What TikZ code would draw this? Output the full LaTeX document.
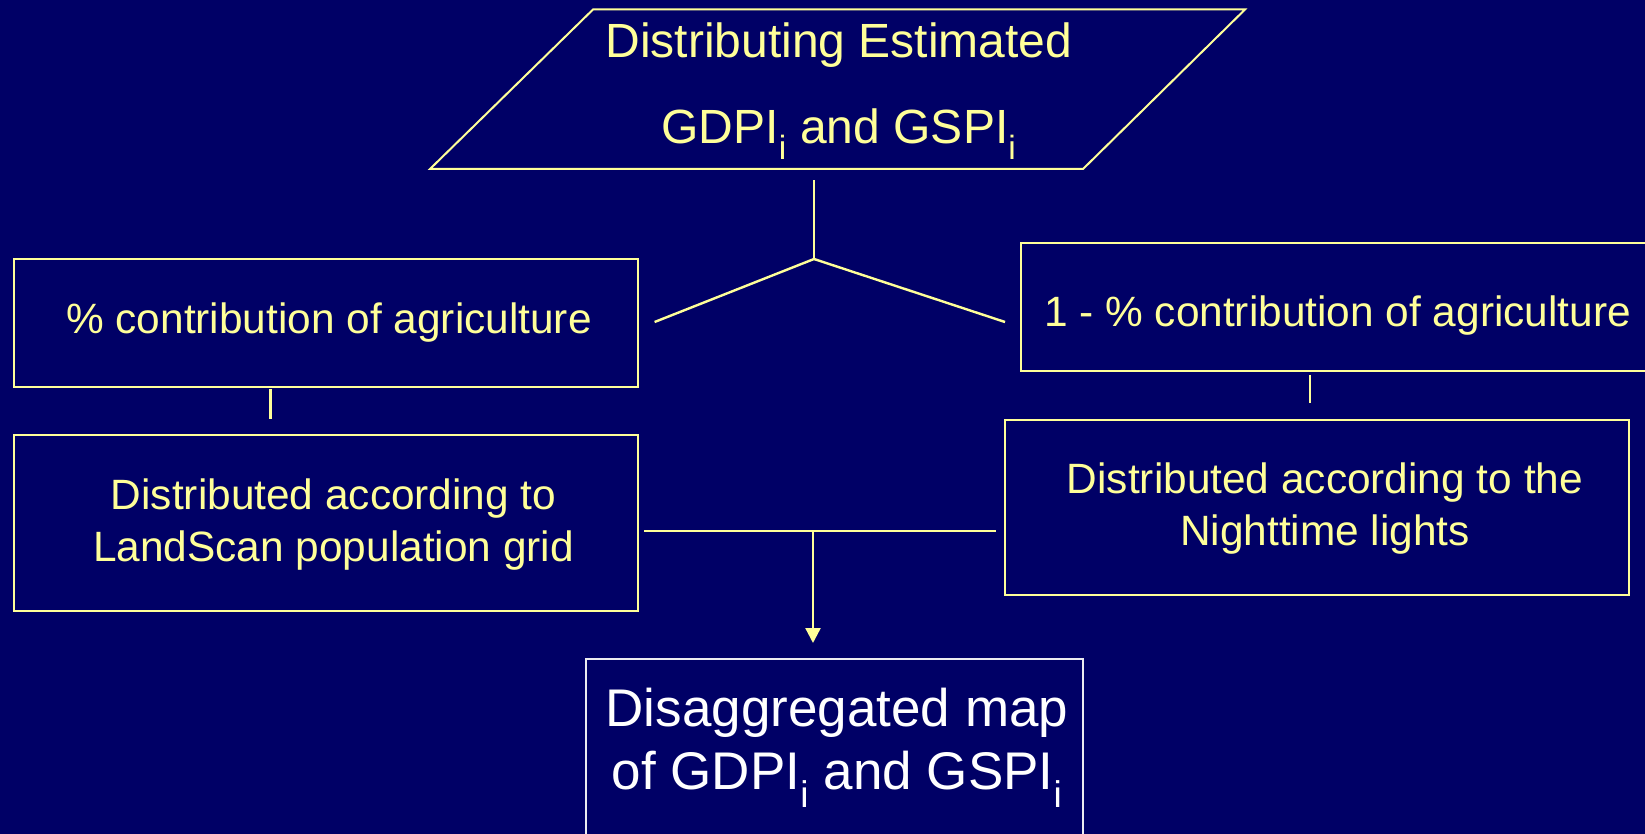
\documentclass[tikz,border=0pt]{standalone}
\usepackage{fontspec}
\setmainfont{Liberation Sans}
\usetikzlibrary{arrows.meta,calc}
\definecolor{navy}{RGB}{0,0,102}
\definecolor{pale}{RGB}{255,255,153}
\definecolor{boxwhite}{RGB}{235,235,240}
\newcommand\sbi{\textsubscript{i}}
\tikzset{
  ybox/.style={draw=pale, line width=2pt, inner sep=0pt},
  wbox/.style={draw=boxwhite, line width=2pt, inner sep=0pt},
  ytext/.style={text=pale, align=center, inner sep=0pt, font=\fontsize{42.4}{52.5}\selectfont},
  conn/.style={draw=pale, line width=2.4pt},
}
\begin{document}
\begin{tikzpicture}[x=1pt,y=-1pt]
\useasboundingbox (0,0) rectangle (1645,834);
\fill[navy] (0,0) rectangle (1645,834);
\clip (0,0) rectangle (1645,834);
% source parallelogram
\draw[pale, line width=2pt] (593,9.5) -- (1245,9.5) -- (1083,169) -- (430,169) -- cycle;
\node[text=pale, align=center, inner sep=0pt, font=\fontsize{48}{86}\selectfont] (src) at (839,91) {Distributing Estimated\\GDPI\sbi{} and GSPI\sbi};
% boxes
\node[ybox, minimum width=624.4pt, minimum height=128pt] (agri) at (325.8,323) {};
\node[ytext] (agrit) at (329,322.5) {\% contribution of agriculture};
\node[ybox, minimum width=640pt, minimum height=128pt] (nagri) at (1341,307) {};
\node[ytext] (nagrit) at (1337.5,316) {1 - \% contribution of agriculture};
\node[ybox, minimum width=624.4pt, minimum height=175.5pt] (land) at (325.8,522.75) {};
\node[ytext] (landt) at (333.6,524.5) {Distributed according to\\LandScan population grid};
\node[ybox, minimum width=624pt, minimum height=175.4pt] (night) at (1317,507.3) {};
\node[ytext] (nightt) at (1325,508.5) {Distributed according to the\\Nighttime lights};
\node[wbox, minimum width=497pt, minimum height=191pt] (map) at (834.5,754.5) {};
\node[text=white, align=center, inner sep=0pt, font=\fontsize{53}{63}\selectfont] (mapt) at (837,747.5) {Disaggregated map\\of GDPI\sbi{} and GSPI\sbi};
% connector coordinates
\coordinate (pb) at (814,180.5);
\coordinate (j) at (814,259);
\coordinate (lb) at (654.6,322);
\coordinate (rb) at (1005,322);
\coordinate (a1) at (270.6,389);
\coordinate (a2) at (270.6,418.6);
\coordinate (b1) at (1310,374.5);
\coordinate (b2) at (1310,403);
\coordinate (h1) at (644,531);
\coordinate (h2) at (995.5,531);
\coordinate (hm) at (813,531);
\coordinate (tip) at (813,643);
\draw[conn] (pb) -- (j);
\draw[conn] (j) -- (lb);
\draw[conn] (j) -- (rb);
\draw[conn] (a1) -- (a2);
\draw[conn] (b1) -- (b2);
\draw[conn] (h1) -- (h2);
\draw[conn, -{Triangle[width=15pt,length=15pt]}] (hm) -- (tip);
\end{tikzpicture}
\end{document}
